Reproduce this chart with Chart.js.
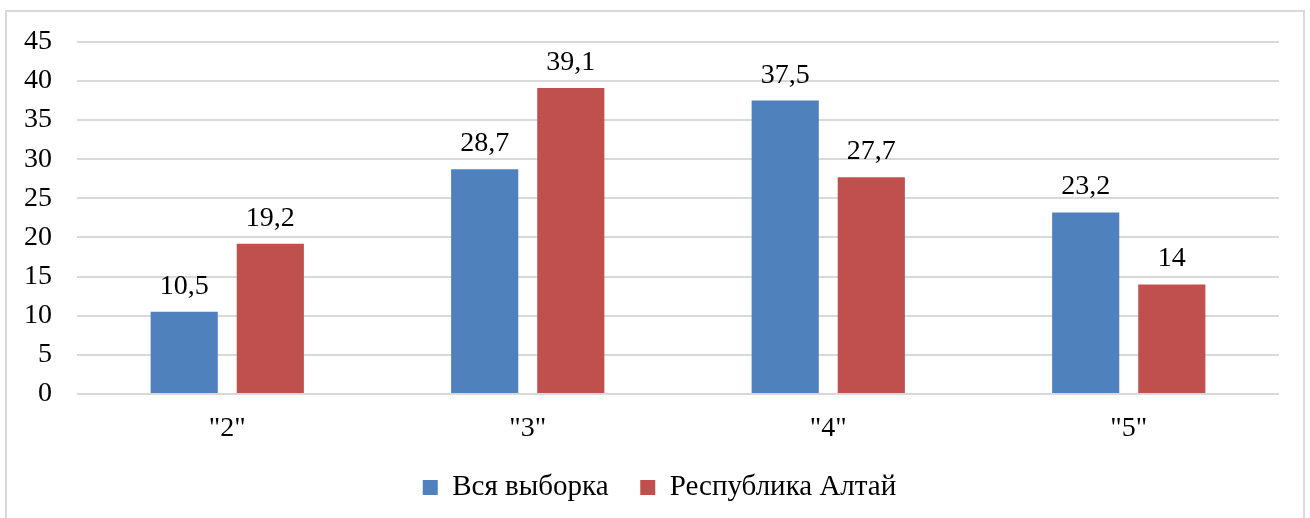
<!DOCTYPE html>
<html>
<head>
<meta charset="utf-8">
<script src="https://cdn.jsdelivr.net/npm/chart.js@4.4.1/dist/chart.umd.min.js"></script>
<style>
    html, body { margin: 0; padding: 0; background: #fff; }
    #wrap { position: relative; width: 1310px; height: 518px; overflow: hidden; }
    #frame { position: absolute; left: 5px; top: 10px; width: 1300px; height: 520px; border: 2px solid #d9d9d9; box-sizing: border-box; }
    #chart { position: absolute; left: 0; top: 0; }
</style>
</head>
<body>
<div id="wrap">
    <div id="frame"></div>
    <canvas id="chart" width="1310" height="518"></canvas>
</div>
<script>
const categories = ['"2"', '"3"', '"4"', '"5"'];
const allSample = [10.5, 28.7, 37.5, 23.2];
const altaiRepublic = [19.2, 39.1, 27.7, 14];
const seriesNames = ['Вся выборка', 'Республика Алтай'];
const yTicks = [0, 5, 10, 15, 20, 25, 30, 35, 40, 45];

const fontFamily = "'Liberation Serif', 'Times New Roman', serif";

// value labels above each bar
const barLabels = {
    id: 'barLabels',
    afterDatasetsDraw(chart) {
        const c = chart.ctx;
        c.save();
        c.font = '28px ' + fontFamily;
        c.fillStyle = '#000';
        c.textAlign = 'center';
        c.textBaseline = 'alphabetic';
        chart.data.datasets.forEach((ds, i) => {
            chart.getDatasetMeta(i).data.forEach((bar, j) => {
                const txt = String(ds.data[j]).replace('.', ',');
                c.fillText(txt, bar.x, bar.y - 18);
            });
        });
        c.restore();
    }
};

// nudge the legend a bit to the right, like in the original
const legendShift = {
    id: 'legendShift',
    afterLayout(chart) {
        chart.legend.left += 20;
        chart.legend.right += 20;
    }
};

const chart = new Chart(document.getElementById('chart'), {
    type: 'bar',
    data: {
        labels: categories,
        datasets: [{
            label: seriesNames[0],
            data: allSample,
            backgroundColor: '#4f81bd',
            categoryPercentage: 0.573,
            barPercentage: 0.78
        }, {
            label: seriesNames[1],
            data: altaiRepublic,
            backgroundColor: '#c0504d',
            categoryPercentage: 0.573,
            barPercentage: 0.78
        }]
    },
    options: {
        responsive: false,
        animation: false,
        layout: {
            padding: { left: 0, right: 31, top: 39, bottom: 6 }
        },
        scales: {
            y: {
                min: 0,
                max: 45,
                afterBuildTicks: (scale) => { scale.ticks = yTicks.map(v => ({ value: v })); },
                afterFit: (scale) => { scale.width = 77; },
                border: { display: false },
                grid: { color: '#d9d9d9', lineWidth: 2, drawTicks: false },
                ticks: { color: '#000', padding: 25, font: { family: fontFamily, size: 28 } }
            },
            x: {
                border: { display: false },
                grid: { display: false, drawTicks: false },
                afterFit: (scale) => { scale.height = 69; },
                ticks: { color: '#000', padding: 18, font: { family: fontFamily, size: 28 } }
            }
        },
        plugins: {
            legend: {
                position: 'bottom',
                labels: {
                    color: '#000',
                    boxWidth: 15,
                    boxHeight: 15,
                    padding: 10,
                    font: { family: fontFamily, size: 29 },
                    generateLabels: (chart) => {
                        const items = Chart.defaults.plugins.legend.labels.generateLabels(chart);
                        items[0].text = items[0].text + '   ';
                        return items;
                    }
                }
            },
            tooltip: { enabled: false }
        }
    },
    plugins: [barLabels, legendShift]
});
</script>
</body>
</html>
